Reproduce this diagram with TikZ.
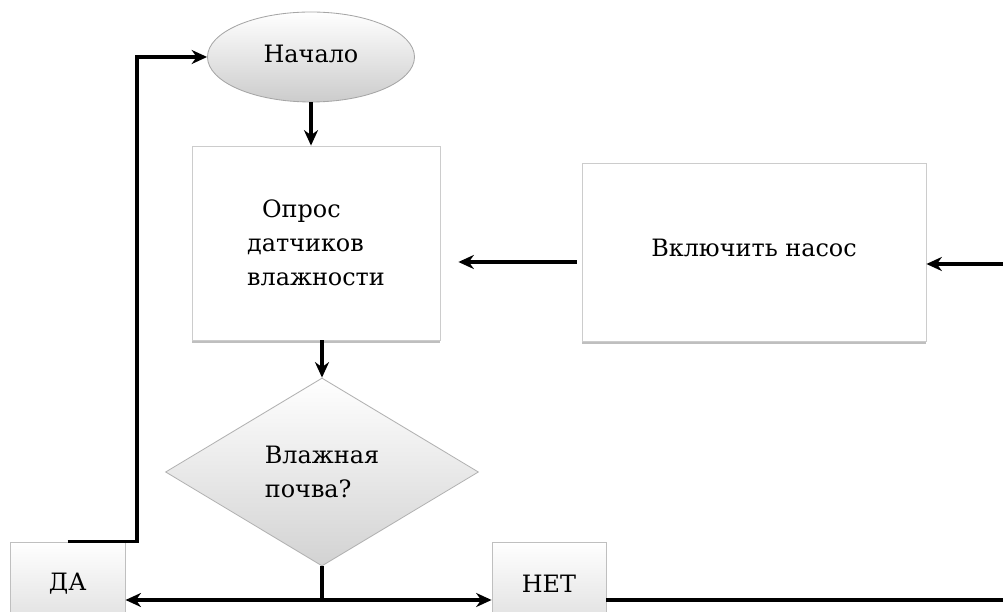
\documentclass[tikz,border=0pt]{standalone}
\usepackage{fontspec}
\setmainfont{DejaVu Serif}
\usetikzlibrary{shapes.geometric,arrows.meta,shadows}

\tikzset{
  block/.style={draw=gray!40, fill=white, line width=0.6pt,
    drop shadow={shadow xshift=0pt, shadow yshift=-2pt, fill=black!25, opacity=1}},
  terminal/.style={ellipse, draw=gray!70, line width=0.6pt, top color=white, bottom color=gray!40},
  decision/.style={diamond, draw=gray!60, line width=0.6pt, top color=white, bottom color=gray!35, inner sep=0pt},
  answer/.style={draw=gray!50, line width=0.6pt, top color=white, bottom color=gray!25},
  flow/.style={line width=2.4pt, -{Stealth[length=11pt,width=10pt]}},
  line/.style={line width=2.4pt}
}

\begin{document}
\begin{tikzpicture}[font=\fontsize{17}{24}\selectfont]
  \useasboundingbox (0,0) rectangle (25.075,15.3);

  %blocks
  \node[terminal, minimum width=5.175cm, minimum height=2.25cm] (start) at (7.775,13.875) {\raisebox{4pt}{Начало}};
  \node[block, minimum width=6.2cm, minimum height=4.85cm, align=left] (poll) at (7.9,9.225) {\hspace*{0.375cm}Опрос\\датчиков\\влажности};
  \node[decision, minimum width=7.825cm, minimum height=4.7cm, align=left] (wet) at (8.05,3.5) {Влажная\\почва?};
  \node[block, minimum width=8.6cm, minimum height=4.45cm] (pump) at (18.85,9.0) {\raisebox{6pt}{Включить насос}};

  %answers
  \node[answer, minimum width=2.875cm, minimum height=2.1cm] (yes) at (1.69,0.7) {ДА};
  \node[answer, minimum width=2.85cm, minimum height=2.1cm] (no) at (13.725,0.7) {НЕТ};

  %helper points
  \coordinate (split) at (wet.south |- 0,0.3);
  \coordinate (back) at (3.425,13.875);
  \coordinate (pumpin) at (25.075,8.7);
  \coordinate (off) at (25.075,0.3);

  %arrows
  \draw[flow] (start.south) -- (start.south |- poll.north);
  \draw[flow] (wet.north |- poll.south) -- (wet.north);
  \draw[flow, shorten <=0.125cm, shorten >=0.45cm] ([yshift=-0.25cm]pump.west) -- ([yshift=-0.25cm]pump.west -| poll.east);
  \draw[flow] (pumpin) -- (pumpin -| pump.east);

  %branches
  \draw[line] (wet.south) -- (split);
  \draw[flow] (split) -- (split -| yes.east);
  \draw[flow] (split) -- (split -| no.west);
  \draw[line] (split -| no.east) -- (off);
  \draw[flow] (yes.north) -| (back) -- (start.west);
\end{tikzpicture}
\end{document}
